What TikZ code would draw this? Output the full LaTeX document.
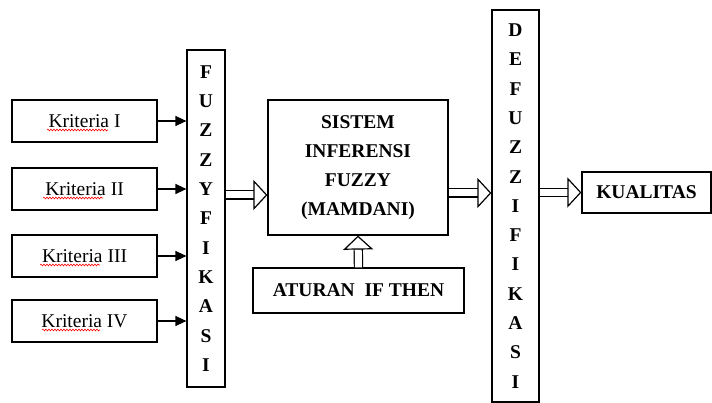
\documentclass[tikz,border=0pt]{standalone}
\usepackage{fontspec}
\setmainfont{Liberation Serif}
\usetikzlibrary{arrows.meta, positioning, decorations.pathmorphing}

\begin{document}
\begin{tikzpicture}[
  x=1pt, y=-1pt,
  box/.style={rectangle, draw=black, line width=1.2pt, inner sep=0pt, align=center,
              font=\fontsize{19.5}{29}\selectfont},
  critbox/.style={box, minimum width=145pt, minimum height=42pt},
  stackbox/.style={box, font=\fontsize{19.5}{29.3}\selectfont\bfseries},
  mainbox/.style={box, font=\fontsize{19.5}{29}\selectfont\bfseries},
  arrow/.style={-{Triangle[length=11pt,width=10pt]}, line width=1.3pt},
  hollow/.style={double, double distance=7pt, line width=1.2pt,
                 -{Triangle[open, fill=white, length=14pt, width=30pt]}},
  spell/.style={red, line width=0.6pt, decorate,
                decoration={snake, amplitude=0.9pt, segment length=3pt}}
]
\useasboundingbox (0,0) rectangle (712,403);

% input criteria
\node[critbox] (k1) at (84.5,121) {Kriteria I};
\node[critbox] (k2) at (84.5,189) {Kriteria II};
\node[critbox] (k3) at (84.5,256) {Kriteria III};
\node[critbox] (k4) at (84.5,321) {Kriteria IV};

% fuzzification / defuzzification columns
\node[stackbox, minimum width=38pt, minimum height=337pt] (fuzz) at (206,218.5)
  {F\\U\\Z\\Z\\Y\\F\\I\\K\\A\\S\\I};
\node[stackbox, minimum width=47pt, minimum height=392pt] (defuzz) at (515.5,206)
  {D\\E\\F\\U\\Z\\Z\\I\\F\\I\\K\\A\\S\\I};

% inference
\node[mainbox, minimum width=180pt, minimum height=135pt] (sistem) at (358,167.5)
  {SISTEM\\INFERENSI\\FUZZY\\(MAMDANI)};
\node[mainbox, minimum width=211pt, minimum height=45pt] (aturan) at (358.5,290.5)
  {ATURAN\ \ IF THEN};
\node[mainbox, minimum width=129pt, minimum height=41pt] (kual) at (646.5,192.5)
  {KUALITAS};

\foreach \i in {1,...,4}
  \draw[arrow] (k\i.east) -- (k\i.east -| fuzz.west);
\foreach \i/\a/\b in {1/-37.5/61, 2/-41.5/60, 3/-44.5/60, 4/-42.5/58}
  \draw[spell] ([xshift=\a pt, yshift=-9pt]k\i.center) -- ++(\b,0);

\coordinate (sin) at ([yshift=-27.5pt]sistem.west);
\coordinate (sout) at ([yshift=-25.5pt]sistem.east);
\draw[hollow] (sin -| fuzz.east) -- (sin);
\draw[hollow] (sout) -- (sout -| defuzz.west);
\draw[hollow] (kual.west -| defuzz.east) -- (kual.west);
\draw[hollow] (aturan.north) -- (sistem.south);
\end{tikzpicture}
\end{document}
